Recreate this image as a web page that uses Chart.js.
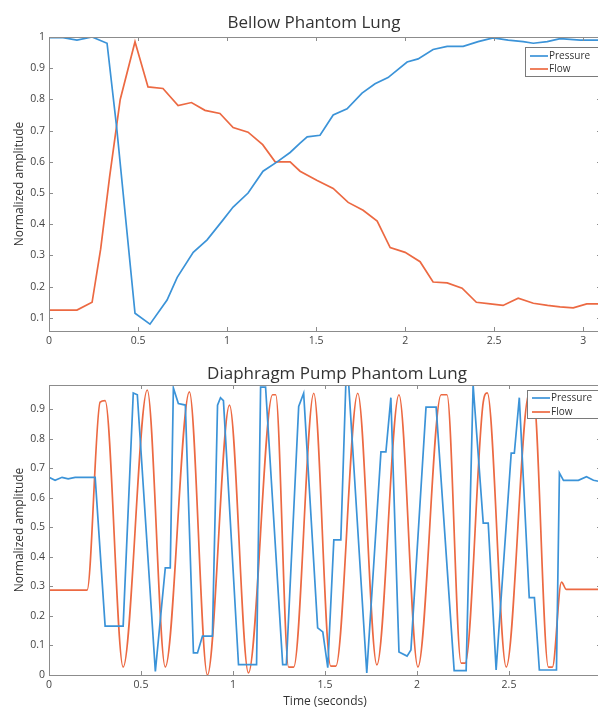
<!DOCTYPE html>
<html>
<head>
<meta charset="utf-8">
<script src="https://cdn.jsdelivr.net/npm/chart.js@4"></script>
<style>
  html, body { margin: 0; padding: 0; background: #fff; }
  body { width: 598px; height: 709px; overflow: hidden; position: relative; }
  canvas { position: absolute; left: 0; }
  #top { top: 0; }
  #bottom { top: 352px; }
  .title { position: absolute; transform: translateX(-50%); white-space: nowrap;
           font: 17px "Open Sans"; line-height: 20px; color: #333; }
</style>
</head>
<body>
<canvas id="top" width="640" height="352"></canvas>
<canvas id="bottom" width="640" height="357"></canvas>
<div class="title" style="left:314px; top:12px;">Bellow Phantom Lung</div>
<div class="title" style="left:337px; top:363px;">Diaphragm Pump Phantom Lung</div>
<script>
// Bellow phantom lung (top panel)
const bellowPressT = [0, 0.079, 0.157, 0.242, 0.326, 0.38, 0.483, 0.567, 0.663, 0.72, 0.81, 0.888, 0.972, 1.034, 1.118, 1.202, 1.281, 1.354, 1.41, 1.45, 1.522, 1.596, 1.674, 1.758, 1.831, 1.904, 2.011, 2.073, 2.157, 2.236, 2.326, 2.41, 2.494, 2.579, 2.663, 2.72, 2.798, 2.871, 2.983, 3.10];
const bellowPress = [0.998, 0.998, 0.99, 1.0, 0.98, 0.71, 0.115, 0.08, 0.157, 0.23, 0.31, 0.35, 0.41, 0.455, 0.50, 0.57, 0.60, 0.63, 0.66, 0.68, 0.685, 0.75, 0.77, 0.82, 0.85, 0.87, 0.92, 0.93, 0.96, 0.97, 0.97, 0.985, 0.997, 0.99, 0.985, 0.98, 0.985, 0.995, 0.99, 0.99];
const bellowFlowT = [0, 0.157, 0.242, 0.29, 0.34, 0.40, 0.483, 0.556, 0.64, 0.725, 0.80, 0.876, 0.96, 1.034, 1.118, 1.20, 1.27, 1.354, 1.41, 1.506, 1.596, 1.68, 1.764, 1.843, 1.916, 2.0, 2.084, 2.157, 2.236, 2.32, 2.40, 2.478, 2.55, 2.635, 2.72, 2.80, 2.87, 2.944, 3.02, 3.10];
const bellowFlow = [0.125, 0.125, 0.15, 0.32, 0.55, 0.80, 0.985, 0.84, 0.835, 0.78, 0.79, 0.765, 0.755, 0.71, 0.695, 0.655, 0.60, 0.60, 0.57, 0.54, 0.515, 0.47, 0.445, 0.41, 0.325, 0.31, 0.28, 0.215, 0.212, 0.195, 0.15, 0.145, 0.14, 0.163, 0.147, 0.14, 0.135, 0.132, 0.145, 0.145];

// Diaphragm pump phantom lung (bottom panel)
const pumpPressT = [0, 0.033, 0.071, 0.104, 0.142, 0.251, 0.305, 0.403, 0.458, 0.480, 0.578, 0.632, 0.659, 0.676, 0.703, 0.741, 0.785, 0.807, 0.834, 0.888, 0.916, 0.932, 0.948, 1.03, 1.128, 1.15, 1.177, 1.27, 1.29, 1.357, 1.384, 1.46, 1.488, 1.515, 1.548, 1.586, 1.613, 1.629, 1.727, 1.804, 1.831, 1.858, 1.902, 1.946, 1.967, 2.049, 2.104, 2.202, 2.267, 2.305, 2.36, 2.387, 2.43, 2.512, 2.529, 2.556, 2.61, 2.638, 2.665, 2.758, 2.774, 2.796, 2.877, 2.921, 2.959, 3.0];
const pumpPress = [0.67, 0.66, 0.67, 0.665, 0.67, 0.67, 0.166, 0.166, 0.956, 0.95, 0.012, 0.363, 0.363, 0.973, 0.92, 0.915, 0.075, 0.075, 0.132, 0.132, 0.915, 0.94, 0.93, 0.035, 0.035, 0.976, 0.976, 0.035, 0.035, 0.91, 0.955, 0.16, 0.146, 0.025, 0.458, 0.458, 0.983, 0.983, 0.007, 0.756, 0.756, 0.94, 0.078, 0.064, 0.085, 0.908, 0.908, 0.015, 0.015, 0.983, 0.515, 0.515, 0.017, 0.752, 0.752, 0.94, 0.262, 0.262, 0.017, 0.017, 0.685, 0.66, 0.66, 0.672, 0.66, 0.655];
const pumpFlowT = [0, 0.207, 0.278, 0.305, 0.403, 0.534, 0.632, 0.763, 0.861, 0.981, 1.084, 1.215, 1.232, 1.302, 1.33, 1.439, 1.531, 1.559, 1.678, 1.782, 1.902, 2.005, 2.131, 2.163, 2.24, 2.262, 2.36, 2.382, 2.485, 2.61, 2.632, 2.714, 2.736, 2.785, 2.812, 3.0];
const pumpFlow = [0.288, 0.288, 0.925, 0.93, 0.027, 0.966, 0.027, 0.96, 0.0, 0.915, 0.007, 0.95, 0.95, 0.027, 0.027, 0.955, 0.03, 0.03, 0.955, 0.034, 0.95, 0.027, 0.95, 0.95, 0.04, 0.04, 0.925, 0.956, 0.027, 0.956, 0.955, 0.027, 0.027, 0.315, 0.29, 0.29];

// tick labels
const xTicks = [0, 0.5, 1, 1.5, 2, 2.5, 3];
const yTicksTop = [0.1, 0.2, 0.3, 0.4, 0.5, 0.6, 0.7, 0.8, 0.9, 1];
const yTicksBottom = [0, 0.1, 0.2, 0.3, 0.4, 0.5, 0.6, 0.7, 0.8, 0.9];

const BLUE = '#3b93d8';
const ORANGE = '#ec6942';
const FONT = 'Open Sans';

function pts(t, v) {
  return t.map((x, i) => ({ x: x, y: v[i] }));
}

// axes box with inward ticks + legend drawn inside the plot, matlab style
const boxPlugin = {
  id: 'box',
  afterDraw(chart, args, opts) {
    const ctx = chart.ctx;
    const a = chart.chartArea;
    const sx = chart.scales.x, sy = chart.scales.y;
    ctx.save();
    ctx.strokeStyle = '#8c8c8c';
    ctx.lineWidth = 1;
    ctx.strokeRect(Math.round(a.left) + 0.5, Math.round(a.top) + 0.5, Math.round(a.right - a.left), Math.round(a.bottom - a.top));
    ctx.beginPath();
    sx.ticks.forEach(t => {
      const px = Math.round(sx.getPixelForValue(t.value)) + 0.5;
      ctx.moveTo(px, a.bottom); ctx.lineTo(px, a.bottom - 4);
      ctx.moveTo(px, a.top); ctx.lineTo(px, a.top + 4);
    });
    sy.ticks.forEach(t => {
      const py = Math.round(sy.getPixelForValue(t.value)) + 0.5;
      ctx.moveTo(a.left, py); ctx.lineTo(a.left + 4, py);
      ctx.moveTo(a.right, py); ctx.lineTo(a.right - 4, py);
    });
    ctx.stroke();

    // legend
    const lx = opts.x, ly = opts.y;
    ctx.fillStyle = '#fff';
    ctx.fillRect(lx, ly, 85, opts.h);
    ctx.strokeStyle = '#7a7a7a';
    ctx.strokeRect(lx + 0.5, ly + 0.5, 85, opts.h);
    ctx.font = '10px "' + FONT + '"';
    ctx.textBaseline = 'middle';
    chart.data.datasets.forEach((ds, i) => {
      const y = ly + opts.rows[i];
      ctx.strokeStyle = ds.borderColor;
      ctx.lineWidth = 1.7;
      ctx.beginPath();
      ctx.moveTo(lx + 5, y); ctx.lineTo(lx + 23, y);
      ctx.stroke();
      ctx.fillStyle = '#333';
      ctx.fillText(ds.label, lx + 24, y);
    });
    ctx.restore();
  }
};

function makeChart(id, cfg) {
  const ctx = document.getElementById(id).getContext('2d');
  return new Chart(ctx, {
    type: 'line',
    data: {
      datasets: [
        { label: 'Pressure', data: cfg.pressure, borderColor: BLUE, borderWidth: 1.7, pointRadius: 0, tension: 0 },
        { label: 'Flow', data: cfg.flow, borderColor: ORANGE, borderWidth: 1.7, pointRadius: 0, tension: 0,
          cubicInterpolationMode: cfg.smoothFlow ? 'monotone' : 'default' }
      ]
    },
    options: {
      responsive: false,
      devicePixelRatio: 1,
      animation: false,
      layout: { padding: { left: 0, right: 640 - 601, top: cfg.padTop, bottom: 0 } },
      plugins: {
        legend: { display: false },
        tooltip: { enabled: false },
        title: { display: false },
        box: cfg.legend
      },
      scales: {
        x: {
          type: 'linear',
          min: 0,
          max: cfg.xMax,
          afterBuildTicks: s => { s.ticks = xTicks.map(v => ({ value: v })); },
          afterFit: s => { s.height = cfg.xHeight; },
          grid: { display: false, drawTicks: false },
          border: { display: false },
          ticks: { color: '#444', font: { family: FONT, size: 10.5 }, padding: 4, maxRotation: 0, autoSkip: false, callback: v => String(v) },
          title: { display: !!cfg.xTitle, text: cfg.xTitle || '', color: '#333', font: { family: FONT, size: 12 }, padding: { top: 0, bottom: 0 } }
        },
        y: {
          min: cfg.yMin,
          max: cfg.yMax,
          afterBuildTicks: s => { s.ticks = cfg.yTicks.map(v => ({ value: v })); },
          afterFit: s => { s.width = 49; },
          grid: { display: false, drawTicks: false },
          border: { display: false },
          ticks: { color: '#444', font: { family: FONT, size: 10.5 }, padding: 4, autoSkip: false, callback: v => String(v) },
          title: { display: true, text: 'Normalized amplitude', color: '#333', font: { family: FONT, size: 12 }, padding: { top: 12, bottom: 0 } }
        }
      }
    },
    plugins: [boxPlugin]
  });
}

makeChart('top', {
  pressure: pts(bellowPressT, bellowPress),
  flow: pts(bellowFlowT, bellowFlow),
  xMax: 3.10, yMin: 0.058, yMax: 1.0, yTicks: yTicksTop,
  padTop: 37, xHeight: 21,
  legend: { x: 525, y: 47, h: 29, rows: [9, 22] }
});

makeChart('bottom', {
  pressure: pts(pumpPressT, pumpPress),
  flow: pts(pumpFlowT, pumpFlow),
  smoothFlow: true,
  xMax: 3.0, yMin: 0, yMax: 0.983, yTicks: yTicksBottom,
  padTop: 33, xHeight: 34, xTitle: 'Time (seconds)',
  legend: { x: 527, y: 38, h: 28, rows: [8, 22] }
});
</script>
</body>
</html>
